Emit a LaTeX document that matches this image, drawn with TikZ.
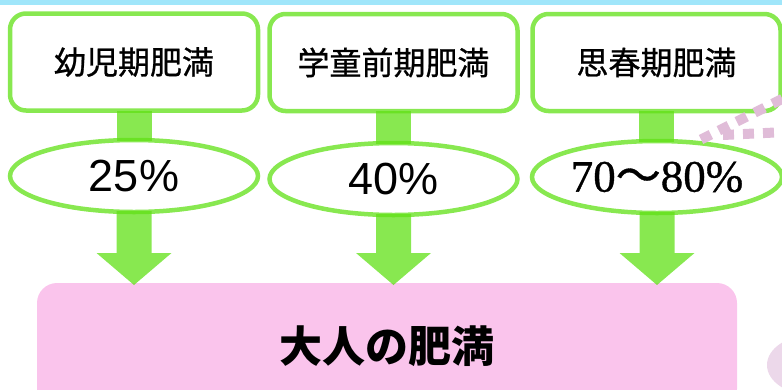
\documentclass[tikz,border=0pt]{standalone}
\usepackage{fontspec}
\setmainfont{Liberation Sans}
\newfontfamily\cjk{Noto Sans CJK JP}
\newfontfamily\cjkmed[FakeBold=0.8]{Noto Sans CJK JP}
\newfontfamily\serifnum[FakeBold=0.8]{Liberation Serif}
\usetikzlibrary{shapes.geometric,calc}
\definecolor{gborder}{HTML}{88E850}
\definecolor{gstem}{RGB}{96,224,22}
\definecolor{pinkbox}{HTML}{FAC4EC}
\definecolor{pinkdot}{HTML}{E0BCD8}
\definecolor{pinkblob}{HTML}{ECD8EA}
\definecolor{topband}{HTML}{A0E6FA}
\begin{document}
\begin{tikzpicture}[x=1pt,y=-1pt,
  stagebox/.style={draw=gborder,line width=4.5pt,rounded corners=16pt,fill=white,
    minimum width=248pt,minimum height=97pt,inner sep=0pt,outer sep=0pt,
    font=\cjkmed\fontsize{32}{36}\selectfont},
  ratio/.style={ellipse,draw=gborder,line width=4.5pt,fill=white,
    minimum width=248pt,minimum height=72pt,inner sep=0pt,outer sep=0pt,
    font=\fontsize{45}{50}\selectfont},
  adult/.style={fill=pinkbox,rounded corners=20pt,minimum width=700pt,
    minimum height=126pt,inner sep=0pt,outer sep=0pt,
    font=\cjk\bfseries\fontsize{43}{48}\selectfont},
  stemfill/.style={fill=gstem,fill opacity=0.75},
  dotline/.style={draw=pinkdot,line width=10pt,dash pattern=on 11pt off 9pt}]
\clip (0,0) rectangle (782,389);
\fill[topband] (0,0) rectangle (782,5);
\fill[pinkblob] (812,365) ellipse [x radius=45pt, y radius=30pt];
\node[adult] (P) at (387,346) {大人の肥満};
\node[stagebox] (b1) at (134,62) {幼児期肥満};
\node[stagebox] (b2) at (393.5,62.5) {学童前期肥満};
\node[stagebox] (b3) at (656.5,62.5) {思春期肥満};
\node[ratio] (e1) at (134,176) {25\%};
\node[ratio] (e2) at (393.5,179) {40\%};
\node[ratio,minimum width=250pt] (e3) at (657,177) {{\serifnum 70}{\cjkmed ～}{\serifnum 80\%}};
\foreach \i in {1,2,3}{
  \fill[stemfill] let \p1=(b\i.south), \p2=(e\i.north) in
    (\x1-17.5pt,\y1) rectangle (\x1+17.5pt,\y2-1pt);
  \fill[stemfill] let \p1=(e\i.south), \p2=(P.north) in
    (\x1-17.5pt,\y1+1pt) -- (\x1+17.5pt,\y1+1pt) -- (\x1+17.5pt,\y2+30pt)
    -- (\x1+37.5pt,\y2+30pt) -- (\x1,\y2-2pt) -- (\x1-37.5pt,\y2+30pt)
    -- (\x1-17.5pt,\y2+30pt) -- cycle;
}
\draw[dotline] (701,139.5) -- (786,97);
\draw[dotline] (723,135) -- (786,132);
\end{tikzpicture}
\end{document}
